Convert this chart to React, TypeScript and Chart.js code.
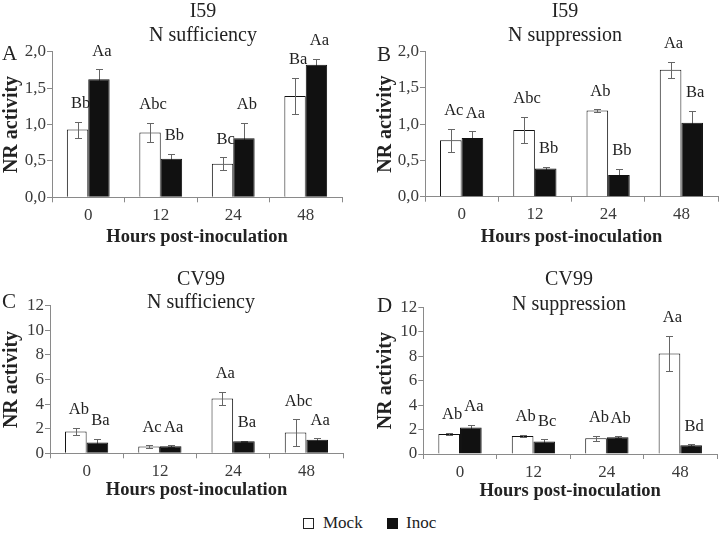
import React, { useEffect, useRef } from "react";
import { Chart, registerables } from "chart.js";

Chart.register(...registerables);

// ---------- data ----------
const hours = ["0", "12", "24", "48"];
const seriesNames = ["Mock", "Inoc"];

// Panel A: I59, N sufficiency
const aMock = [0.93, 0.89, 0.46, 1.39];
const aMockErr = [0.11, 0.13, 0.09, 0.25];
const aInoc = [1.62, 0.53, 0.81, 1.82];
const aInocErr = [0.14, 0.07, 0.21, 0.08];
const aMockLetters = ["Bb", "Abc", "Bc", "Ba"];
const aInocLetters = ["Aa", "Bb", "Ab", "Aa"];

// Panel B: I59, N suppression
const bMock = [0.78, 0.92, 1.19, 1.75];
const bMockErr = [0.16, 0.18, 0.015, 0.11];
const bInoc = [0.81, 0.39, 0.3, 1.02];
const bInocErr = [0.09, 0.02, 0.08, 0.16];
const bMockLetters = ["Ac", "Abc", "Ab", "Aa"];
const bInocLetters = ["Aa", "Bb", "Bb", "Ba"];

// Panel C: CV99, N sufficiency
const cMock = [1.78, 0.55, 4.45, 1.7];
const cMockErr = [0.27, 0.1, 0.55, 1.07];
const cInoc = [0.88, 0.57, 0.98, 1.11];
const cInocErr = [0.3, 0.08, 0.03, 0.1];
const cMockLetters = ["Ab", "Ac", "Aa", "Abc"];
const cInocLetters = ["Ba", "Aa", "Ba", "Aa"];

// Panel D: CV99, N suppression
const dMock = [1.63, 1.48, 1.29, 8.22];
const dMockErr = [0.1, 0.08, 0.22, 1.45];
const dInoc = [2.17, 1.02, 1.37, 0.71];
const dInocErr = [0.2, 0.19, 0.08, 0.08];
const dMockLetters = ["Ab", "Ab", "Ab", "Aa"];
const dInocLetters = ["Aa", "Bc", "Ab", "Bd"];

const yTicksSmall = { max: 2, step: 0.5 };
const yTicksLarge = { max: 12, step: 2 };

const yTitle = "NR activity";
const xTitle = "Hours post-inoculation";

// ---------- styling ----------
const SERIF = "'Liberation Serif', 'Times New Roman', serif";
const AXIS_COLOR = "#8a8a8a";
const TICK_COLOR = "#3a3a3a";
const TEXT_COLOR = "#222222";
const ERR_COLOR = "#666666";

type Panel = {
  letter: string;
  title1: string;
  title2: string;
  mock: number[];
  mockErr: number[];
  inoc: number[];
  inocErr: number[];
  mockLetters: string[];
  inocLetters: string[];
  yMax: number;
  yStep: number;
  decimals: boolean;
  left: number;
  top: number;
  w: number;
  h: number;
  areaLeft: number;
  areaRight: number;
  areaTop: number;
  areaBottom: number;
  letterX: number;
  letterY: number;
  titleX: number;
  title1Y: number;
  title2Y: number;
  yTitleX: number;
  xTitleY: number;
};

const panels: Panel[] = [
  {
    letter: "A", title1: "I59", title2: "N sufficiency",
    mock: aMock, mockErr: aMockErr, inoc: aInoc, inocErr: aInocErr,
    mockLetters: aMockLetters, inocLetters: aInocLetters,
    yMax: yTicksSmall.max, yStep: yTicksSmall.step, decimals: true,
    left: 0, top: 0, w: 360, h: 250,
    areaLeft: 52, areaRight: 342, areaTop: 51.7, areaBottom: 197.3,
    letterX: 2, letterY: 60, titleX: 203, title1Y: 17, title2Y: 41,
    yTitleX: 17, xTitleY: 242,
  },
  {
    letter: "B", title1: "I59", title2: "N suppression",
    mock: bMock, mockErr: bMockErr, inoc: bInoc, inocErr: bInocErr,
    mockLetters: bMockLetters, inocLetters: bInocLetters,
    yMax: yTicksSmall.max, yStep: yTicksSmall.step, decimals: true,
    left: 360, top: 0, w: 359, h: 250,
    areaLeft: 65, areaRight: 358, areaTop: 51.7, areaBottom: 196.7,
    letterX: 17, letterY: 61, titleX: 205, title1Y: 17, title2Y: 41,
    yTitleX: 31, xTitleY: 242,
  },
  {
    letter: "C", title1: "CV99", title2: "N sufficiency",
    mock: cMock, mockErr: cMockErr, inoc: cInoc, inocErr: cInocErr,
    mockLetters: cMockLetters, inocLetters: cInocLetters,
    yMax: yTicksLarge.max, yStep: yTicksLarge.step, decimals: false,
    left: 0, top: 250, w: 360, h: 250,
    areaLeft: 50, areaRight: 343, areaTop: 55.7, areaBottom: 203.3,
    letterX: 2, letterY: 58, titleX: 201, title1Y: 35, title2Y: 58,
    yTitleX: 17, xTitleY: 245,
  },
  {
    letter: "D", title1: "CV99", title2: "N suppression",
    mock: dMock, mockErr: dMockErr, inoc: dInoc, inocErr: dInocErr,
    mockLetters: dMockLetters, inocLetters: dInocLetters,
    yMax: yTicksLarge.max, yStep: yTicksLarge.step, decimals: false,
    left: 360, top: 250, w: 359, h: 250,
    areaLeft: 63.3, areaRight: 357, areaTop: 57.3, areaBottom: 204,
    letterX: 17, letterY: 62, titleX: 209, title1Y: 35, title2Y: 60,
    yTitleX: 31, xTitleY: 246,
  },
];

function makePlugin(p: Panel) {
  const drawErr = (chart: any, dsIndex: number, vals: number[], errs: number[]) => {
    const meta = chart.getDatasetMeta(dsIndex);
    const ys = chart.scales.y;
    const ctx = chart.ctx;
    ctx.save();
    ctx.strokeStyle = ERR_COLOR;
    ctx.lineWidth = 1;
    meta.data.forEach((bar: any, i: number) => {
      const x = Math.round(bar.x) + 0.5;
      const yHi = Math.round(ys.getPixelForValue(vals[i] + errs[i])) + 0.5;
      const yLo = Math.round(ys.getPixelForValue(Math.max(0, vals[i] - errs[i]))) + 0.5;
      ctx.beginPath();
      ctx.moveTo(x, yHi);
      ctx.lineTo(x, yLo);
      ctx.moveTo(x - 3.5, yHi);
      ctx.lineTo(x + 3.5, yHi);
      ctx.moveTo(x - 3.5, yLo);
      ctx.lineTo(x + 3.5, yLo);
      ctx.stroke();
    });
    ctx.restore();
  };
  const drawLetters = (chart: any, dsIndex: number, vals: number[], errs: number[], letters: string[]) => {
    const meta = chart.getDatasetMeta(dsIndex);
    const ys = chart.scales.y;
    const ctx = chart.ctx;
    ctx.save();
    ctx.fillStyle = TEXT_COLOR;
    ctx.font = `16.5px ${SERIF}`;
    ctx.textAlign = "center";
    ctx.textBaseline = "middle";
    meta.data.forEach((bar: any, i: number) => {
      const yHi = ys.getPixelForValue(vals[i] + errs[i]);
      ctx.fillText(letters[i], bar.x + 3, yHi - 18);
    });
    ctx.restore();
  };
  return {
    id: "panelDecor" + p.letter,
    beforeDatasetsDraw(chart: any) {
      drawErr(chart, 1, p.inoc, p.inocErr);
    },
    afterDatasetsDraw(chart: any) {
      drawErr(chart, 0, p.mock, p.mockErr);
      drawLetters(chart, 0, p.mock, p.mockErr, p.mockLetters);
      drawLetters(chart, 1, p.inoc, p.inocErr, p.inocLetters);
    },
    afterDraw(chart: any) {
      const ctx = chart.ctx;
      const ca = chart.chartArea;
      ctx.save();
      ctx.fillStyle = TEXT_COLOR;
      ctx.textBaseline = "alphabetic";
      ctx.font = `21px ${SERIF}`;
      ctx.textAlign = "left";
      ctx.fillText(p.letter, p.letterX, p.letterY);
      ctx.font = `20px ${SERIF}`;
      ctx.textAlign = "center";
      ctx.fillText(p.title1, p.titleX, p.title1Y);
      ctx.fillText(p.title2, p.titleX, p.title2Y);
      ctx.font = `bold 18.5px ${SERIF}`;
      ctx.fillText(xTitle, (ca.left + ca.right) / 2, p.xTitleY);
      ctx.font = `bold 20px ${SERIF}`;
      ctx.translate(p.yTitleX, (ca.top + ca.bottom) / 2);
      ctx.rotate(-Math.PI / 2);
      ctx.fillText(yTitle, 0, 0);
      ctx.restore();
    },
  };
}

function PanelChart({ p }: { p: Panel }) {
  const ref = useRef<HTMLCanvasElement | null>(null);
  useEffect(() => {
    if (!ref.current) return;
    const tickFont = { family: SERIF, size: 17 };
    const chart = new Chart(ref.current, {
      type: "bar",
      data: {
        labels: hours,
        datasets: [
          {
            label: seriesNames[0],
            data: p.mock,
            backgroundColor: "#ffffff",
            borderColor: "#111111",
            borderWidth: 1,
            categoryPercentage: 0.59,
            barPercentage: 1.0,
          },
          {
            label: seriesNames[1],
            data: p.inoc,
            backgroundColor: "#111111",
            borderColor: "#111111",
            borderWidth: 1,
            categoryPercentage: 0.59,
            barPercentage: 1.0,
          },
        ],
      },
      options: {
        responsive: false,
        animation: false,
        devicePixelRatio: 1,
        layout: {
          padding: {
            left: 0,
            top: p.areaTop,
            right: p.w - p.areaRight,
            bottom: 0,
          },
        },
        plugins: {
          legend: { display: false },
          title: { display: false },
          tooltip: { enabled: false },
        },
        scales: {
          x: {
            type: "category",
            offset: true,
            grid: {
              display: true,
              drawOnChartArea: false,
              drawTicks: true,
              tickLength: 5,
              color: AXIS_COLOR,
              offset: true,
            },
            border: { display: true, color: AXIS_COLOR, width: 1 },
            ticks: { color: TICK_COLOR, font: tickFont, padding: 3, maxRotation: 0 },
            afterFit: (s: any) => {
              s.height = p.h - p.areaBottom;
            },
          },
          y: {
            min: 0,
            max: p.yMax,
            grid: {
              display: true,
              drawOnChartArea: false,
              drawTicks: true,
              tickLength: 5,
              color: AXIS_COLOR,
            },
            border: { display: true, color: AXIS_COLOR, width: 1 },
            ticks: {
              stepSize: p.yStep,
              color: TICK_COLOR,
              font: tickFont,
              padding: 1,
              callback: (v: any) =>
                p.decimals ? Number(v).toFixed(1).replace(".", ",") : String(v),
            },
            afterFit: (s: any) => {
              s.width = p.areaLeft;
            },
          },
        },
      },
      plugins: [makePlugin(p)],
    } as any);
    return () => chart.destroy();
  }, [p]);
  return (
    <div style={{ position: "absolute", left: p.left, top: p.top, width: p.w, height: p.h }}>
      <canvas ref={ref} width={p.w} height={p.h} style={{ display: "block" }} />
    </div>
  );
}

export default function App() {
  const legendText: React.CSSProperties = {
    position: "absolute",
    top: 514,
    fontFamily: SERIF,
    fontSize: 17,
    lineHeight: "17px",
    color: TEXT_COLOR,
    whiteSpace: "nowrap",
  };
  return (
    <div
      style={{
        position: "fixed",
        left: 0,
        top: 0,
        width: 719,
        height: 534,
        background: "#ffffff",
        overflow: "hidden",
      }}
    >
      {panels.map((p) => (
        <PanelChart key={p.letter} p={p} />
      ))}
      <div
        style={{
          position: "absolute",
          left: 303,
          top: 518,
          width: 9,
          height: 9,
          border: "1px solid #222",
          background: "#fff",
        }}
      />
      <div style={{ ...legendText, left: 323 }}>{seriesNames[0]}</div>
      <div
        style={{
          position: "absolute",
          left: 387,
          top: 518,
          width: 11,
          height: 11,
          background: "#111",
        }}
      />
      <div style={{ ...legendText, left: 406 }}>{seriesNames[1]}</div>
    </div>
  );
}
